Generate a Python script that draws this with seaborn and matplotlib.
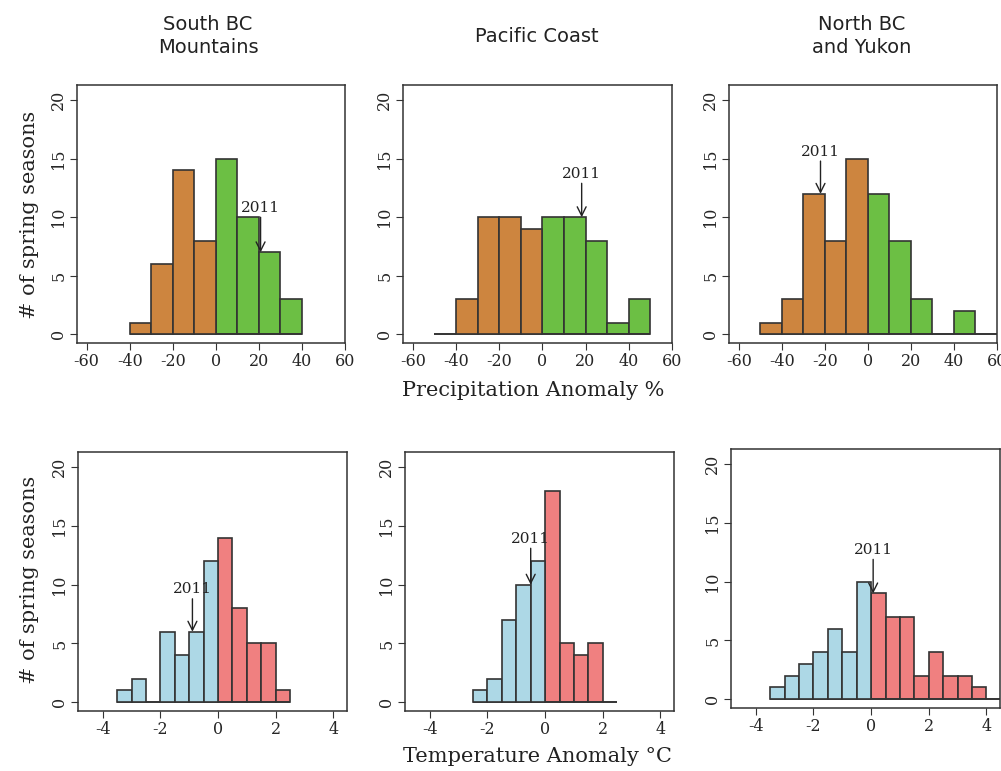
import numpy as np
import pandas as pd
import seaborn as sns
import matplotlib.pyplot as plt

# counts per bin
precip_edges_south = np.arange(-40, 41, 10)
precip_south = [1, 6, 14, 8, 15, 10, 7, 3]
precip_edges_pac = np.arange(-50, 51, 10)
precip_pac = [0, 3, 10, 10, 9, 10, 10, 8, 1, 3]
precip_edges_north = np.arange(-50, 61, 10)
precip_north = [1, 3, 12, 8, 15, 12, 8, 3, 0, 2, 0]

temp_edges_south = np.arange(-3.5, 2.51, 0.5)
temp_south = [1, 2, 0, 6, 4, 6, 12, 14, 8, 5, 5, 1]
temp_edges_pac = np.arange(-2.5, 2.51, 0.5)
temp_pac = [1, 2, 7, 10, 12, 18, 5, 4, 5, 0]
temp_edges_north = np.arange(-3.5, 4.51, 0.5)
temp_north = [1, 2, 3, 4, 6, 4, 10, 9, 7, 7, 2, 4, 2, 2, 1, 0]

titles = ["South BC\nMountains", "Pacific Coast", "North BC\nand Yukon"]
# 2011 marker: (x, arrow tip, text y)
mark_precip = [(20.8, 7, 10.8), (18.2, 10, 13.7), (-22, 12, 15.6)]
mark_temp = [(-0.89, 6, 9.6), (-0.5, 10, 13.9), (0.07, 9, 12.7)]

sns.set_theme(style="white")
plt.rcParams['font.family'] = ['DejaVu Serif']

fig = plt.figure(figsize=(10.01, 7.71), dpi=100)

top_pos = [[0.0769, 0.5551, 0.2677, 0.3346],
           [0.4026, 0.5551, 0.2687, 0.3346],
           [0.7283, 0.5551, 0.2677, 0.3346]]
bot_pos = [[0.0779, 0.0778, 0.2687, 0.336],
           [0.4046, 0.0778, 0.2687, 0.336],
           [0.7303, 0.0817, 0.2687, 0.336]]


def draw(ax, edges, counts, cols, mark, xlim, xticks):
    centers = (edges[:-1] + edges[1:]) / 2
    df = pd.DataFrame({"x": centers, "n": counts})
    df["sign"] = np.where(df["x"] < 0, "neg", "pos")
    sns.histplot(data=df, x="x", weights="n", bins=[float(e) for e in edges],
                 hue="sign", hue_order=["neg", "pos"], palette=cols, alpha=1,
                 edgecolor="#333333", linewidth=1.2, legend=False, ax=ax)
    ax.set_xlim(*xlim)
    ax.set_ylim(-0.75, 21.3)
    ax.set_xticks(xticks)
    ax.set_xticklabels([f"{t:g}" for t in xticks])
    ax.set_yticks([0, 5, 10, 15, 20])
    for lab in ax.get_yticklabels():
        lab.set_rotation(90)
        lab.set_va("center")
    ax.set_xlabel("")
    ax.set_ylabel("")
    ax.tick_params(left=True, bottom=True, direction="out", length=5,
                   width=0.8, color="#333333", labelsize=11.5, pad=2)
    for s in ax.spines.values():
        s.set_color("#333333")
        s.set_linewidth(1.1)
    x, tip, ty = mark
    ax.text(x, ty, "2011", ha="center", va="center", fontsize=11,
            family="DejaVu Serif", color="#222222")
    ax.annotate("", xy=(x, tip), xytext=(x, ty - 0.8),
                arrowprops=dict(arrowstyle="->", color="#222222", lw=1,
                                shrinkA=0, shrinkB=0, mutation_scale=16))


p_edges = [precip_edges_south, precip_edges_pac, precip_edges_north]
p_counts = [precip_south, precip_pac, precip_north]
t_edges = [temp_edges_south, temp_edges_pac, temp_edges_north]
t_counts = [temp_south, temp_pac, temp_north]

for i in range(3):
    ax = fig.add_axes(top_pos[i])
    draw(ax, p_edges[i], p_counts[i], ["#CD853F", "#6CBF44"],
         mark_precip[i], (-64.5, 60), [-60, -40, -20, 0, 20, 40, 60])
    ax = fig.add_axes(bot_pos[i])
    draw(ax, t_edges[i], t_counts[i], ["#ADD8E6", "#F08080"],
         mark_temp[i], (-4.86, 4.47), [-4, -2, 0, 2, 4])

title_x = [208, 537, 862]
for i in range(3):
    fig.text(title_x[i] / 1001, 1 - 36 / 771, titles[i], ha="center",
             va="center", fontsize=14, family="DejaVu Sans",
             linespacing=1.3, color="#222222")

fig.text(533 / 1001, 1 - 391 / 771, "Precipitation Anomaly %", ha="center",
         va="center", fontsize=15, color="#222222")
fig.text(537 / 1001, 1 - 757 / 771, "Temperature Anomaly °C", ha="center",
         va="center", fontsize=15, color="#222222")
for yc in [215, 580]:
    fig.text(30 / 1001, 1 - yc / 771, "# of spring seasons", ha="center",
             va="center", rotation=90, fontsize=15, color="#222222")

fig.savefig("out.png", dpi=100, facecolor="white")
